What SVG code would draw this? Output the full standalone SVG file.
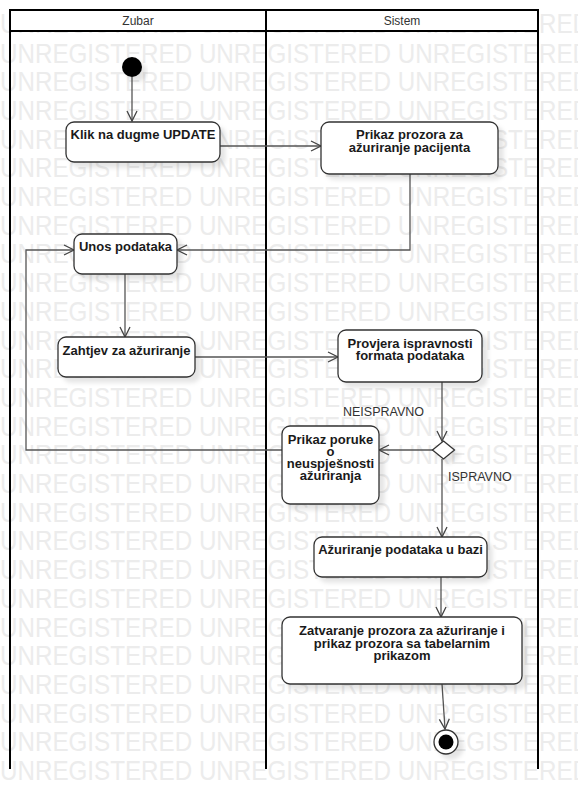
<svg xmlns="http://www.w3.org/2000/svg" width="578" height="810" viewBox="0 0 578 810">
<defs>
<style>
.wm{font-family:"Liberation Sans",Arial,sans-serif;font-size:28px;fill:#ececec}
.lane{stroke:#000;stroke-width:2;fill:none}
.hdr{font-family:"Liberation Sans",Arial,sans-serif;font-size:12px;fill:#333;text-anchor:middle}
.box{fill:#fff;stroke:#333;stroke-width:1.3;filter:url(#sh)}
.t{font-family:"Liberation Sans",Arial,sans-serif;font-size:13px;font-weight:bold;fill:#1a1a1a;text-anchor:middle}
.lbl{font-family:"Liberation Sans",Arial,sans-serif;font-size:12.5px;fill:#333}
.c{fill:none;stroke:#555;stroke-width:1.3}
.ca{fill:none;stroke:#555;stroke-width:1.3;marker-end:url(#arr)}
</style>
<marker id="arr" markerUnits="userSpaceOnUse" markerWidth="14" markerHeight="14" refX="11" refY="6" orient="auto">
<path d="M1,1 L11,6 L1,11" fill="none" stroke="#444" stroke-width="1.3"/>
</marker>
<filter id="sh" x="-20%" y="-20%" width="150%" height="160%">
<feDropShadow dx="5" dy="5" stdDeviation="2" flood-color="#000" flood-opacity="0.1"/>
</filter>
</defs>
<rect width="578" height="810" fill="#fff"/>
<g id="watermark">
<text class="wm" x="0" y="33" textLength="590" lengthAdjust="spacingAndGlyphs">UNREGISTERED UNREGISTERED UNREGISTERED</text>
<text class="wm" x="0" y="62.5" textLength="590" lengthAdjust="spacingAndGlyphs">UNREGISTERED UNREGISTERED UNREGISTERED</text>
<text class="wm" x="0" y="91.2" textLength="590" lengthAdjust="spacingAndGlyphs">UNREGISTERED UNREGISTERED UNREGISTERED</text>
<text class="wm" x="0" y="119.9" textLength="590" lengthAdjust="spacingAndGlyphs">UNREGISTERED UNREGISTERED UNREGISTERED</text>
<text class="wm" x="0" y="148.6" textLength="590" lengthAdjust="spacingAndGlyphs">UNREGISTERED UNREGISTERED UNREGISTERED</text>
<text class="wm" x="0" y="177.3" textLength="590" lengthAdjust="spacingAndGlyphs">UNREGISTERED UNREGISTERED UNREGISTERED</text>
<text class="wm" x="0" y="206" textLength="590" lengthAdjust="spacingAndGlyphs">UNREGISTERED UNREGISTERED UNREGISTERED</text>
<text class="wm" x="0" y="234.7" textLength="590" lengthAdjust="spacingAndGlyphs">UNREGISTERED UNREGISTERED UNREGISTERED</text>
<text class="wm" x="0" y="263.4" textLength="590" lengthAdjust="spacingAndGlyphs">UNREGISTERED UNREGISTERED UNREGISTERED</text>
<text class="wm" x="0" y="292.1" textLength="590" lengthAdjust="spacingAndGlyphs">UNREGISTERED UNREGISTERED UNREGISTERED</text>
<text class="wm" x="0" y="320.8" textLength="590" lengthAdjust="spacingAndGlyphs">UNREGISTERED UNREGISTERED UNREGISTERED</text>
<text class="wm" x="0" y="349.5" textLength="590" lengthAdjust="spacingAndGlyphs">UNREGISTERED UNREGISTERED UNREGISTERED</text>
<text class="wm" x="0" y="378.2" textLength="590" lengthAdjust="spacingAndGlyphs">UNREGISTERED UNREGISTERED UNREGISTERED</text>
<text class="wm" x="0" y="406.9" textLength="590" lengthAdjust="spacingAndGlyphs">UNREGISTERED UNREGISTERED UNREGISTERED</text>
<text class="wm" x="0" y="435.6" textLength="590" lengthAdjust="spacingAndGlyphs">UNREGISTERED UNREGISTERED UNREGISTERED</text>
<text class="wm" x="0" y="464.3" textLength="590" lengthAdjust="spacingAndGlyphs">UNREGISTERED UNREGISTERED UNREGISTERED</text>
<text class="wm" x="0" y="493" textLength="590" lengthAdjust="spacingAndGlyphs">UNREGISTERED UNREGISTERED UNREGISTERED</text>
<text class="wm" x="0" y="521.7" textLength="590" lengthAdjust="spacingAndGlyphs">UNREGISTERED UNREGISTERED UNREGISTERED</text>
<text class="wm" x="0" y="550.4" textLength="590" lengthAdjust="spacingAndGlyphs">UNREGISTERED UNREGISTERED UNREGISTERED</text>
<text class="wm" x="0" y="579.1" textLength="590" lengthAdjust="spacingAndGlyphs">UNREGISTERED UNREGISTERED UNREGISTERED</text>
<text class="wm" x="0" y="607.8" textLength="590" lengthAdjust="spacingAndGlyphs">UNREGISTERED UNREGISTERED UNREGISTERED</text>
<text class="wm" x="0" y="636.5" textLength="590" lengthAdjust="spacingAndGlyphs">UNREGISTERED UNREGISTERED UNREGISTERED</text>
<text class="wm" x="0" y="665.2" textLength="590" lengthAdjust="spacingAndGlyphs">UNREGISTERED UNREGISTERED UNREGISTERED</text>
<text class="wm" x="0" y="693.9" textLength="590" lengthAdjust="spacingAndGlyphs">UNREGISTERED UNREGISTERED UNREGISTERED</text>
<text class="wm" x="0" y="722.6" textLength="590" lengthAdjust="spacingAndGlyphs">UNREGISTERED UNREGISTERED UNREGISTERED</text>
<text class="wm" x="0" y="751.3" textLength="590" lengthAdjust="spacingAndGlyphs">UNREGISTERED UNREGISTERED UNREGISTERED</text>
<text class="wm" x="0" y="780" textLength="590" lengthAdjust="spacingAndGlyphs">UNREGISTERED UNREGISTERED UNREGISTERED</text>
</g>
<g id="swimlanes">
<rect x="10" y="10" width="528" height="21" fill="#fff" stroke="#000" stroke-width="2"/>
<path class="lane" d="M10,10 V769 M266,10 V769 M538,10 V769"/>
<text class="hdr" x="138" y="25">Zubar</text>
<text class="hdr" x="402" y="25">Sistem</text>
</g>
<g id="connectors">
<path class="ca" d="M132,77 V121"/>
<path class="ca" d="M220,146 H321"/>
<path class="ca" d="M410,174 V250 H177"/>
<path class="ca" d="M125,274 V337"/>
<path class="ca" d="M195,357 H338"/>
<path class="ca" d="M442,382 V441"/>
<path class="ca" d="M433,450 H379"/>
<path class="ca" d="M282,450 H26 V250 H74"/>
<path class="ca" d="M442,459 V537"/>
<path class="ca" d="M441,577 V617"/>
<path class="ca" d="M442,684 L445,729"/>
<text class="lbl" x="343" y="416">NEISPRAVNO</text>
<text class="lbl" x="448" y="481">ISPRAVNO</text>
</g>
<g id="start">
<circle cx="132" cy="67" r="10" fill="#000" filter="url(#sh)"/>
</g>
<g id="klik">
<rect class="box" x="66" y="122" width="154" height="40" rx="8"/>
<text class="t" x="143" y="139">Klik na dugme UPDATE</text>
</g>
<g id="prikaz-prozora">
<rect class="box" x="321" y="122" width="177" height="52" rx="8"/>
<text class="t" x="409.5" y="139">Prikaz prozora za</text>
<text class="t" x="409.5" y="151.5">ažuriranje pacijenta</text>
</g>
<g id="unos">
<rect class="box" x="74" y="234" width="103" height="40" rx="8"/>
<text class="t" x="125.5" y="251">Unos podataka</text>
</g>
<g id="zahtjev">
<rect class="box" x="58" y="337" width="137" height="40" rx="8"/>
<text class="t" x="126.5" y="355">Zahtjev za ažuriranje</text>
</g>
<g id="provjera">
<rect class="box" x="338" y="330" width="144" height="52" rx="8"/>
<text class="t" x="410" y="347.5">Provjera ispravnosti</text>
<text class="t" x="410" y="359.5">formata podataka</text>
</g>
<g id="decision">
<path d="M443.5,441 L454.5,450 L443.5,459 L432.5,450 Z" fill="#fff" stroke="#333" stroke-width="1.3" filter="url(#sh)"/>
</g>
<g id="prikaz-poruke">
<rect class="box" x="282" y="426" width="97" height="78" rx="8"/>
<text class="t" x="330.5" y="444">Prikaz poruke</text>
<text class="t" x="330.5" y="456">o</text>
<text class="t" x="330.5" y="468">neuspješnosti</text>
<text class="t" x="330.5" y="480">ažuriranja</text>
</g>
<g id="azuriranje">
<rect class="box" x="314" y="537" width="173" height="40" rx="8"/>
<text class="t" x="400.5" y="554">Ažuriranje podataka u bazi</text>
</g>
<g id="zatvaranje">
<rect class="box" x="282" y="617" width="240" height="67" rx="8"/>
<text class="t" x="402" y="635">Zatvaranje prozora za ažuriranje i</text>
<text class="t" x="402" y="647.5">prikaz prozora sa tabelarnim</text>
<text class="t" x="402" y="660">prikazom</text>
</g>
<g id="end">
<circle cx="446" cy="742" r="12" fill="#fff" stroke="#333" stroke-width="1.3" filter="url(#sh)"/>
<circle cx="446" cy="742" r="7.5" fill="#000"/>
</g>
</svg>
